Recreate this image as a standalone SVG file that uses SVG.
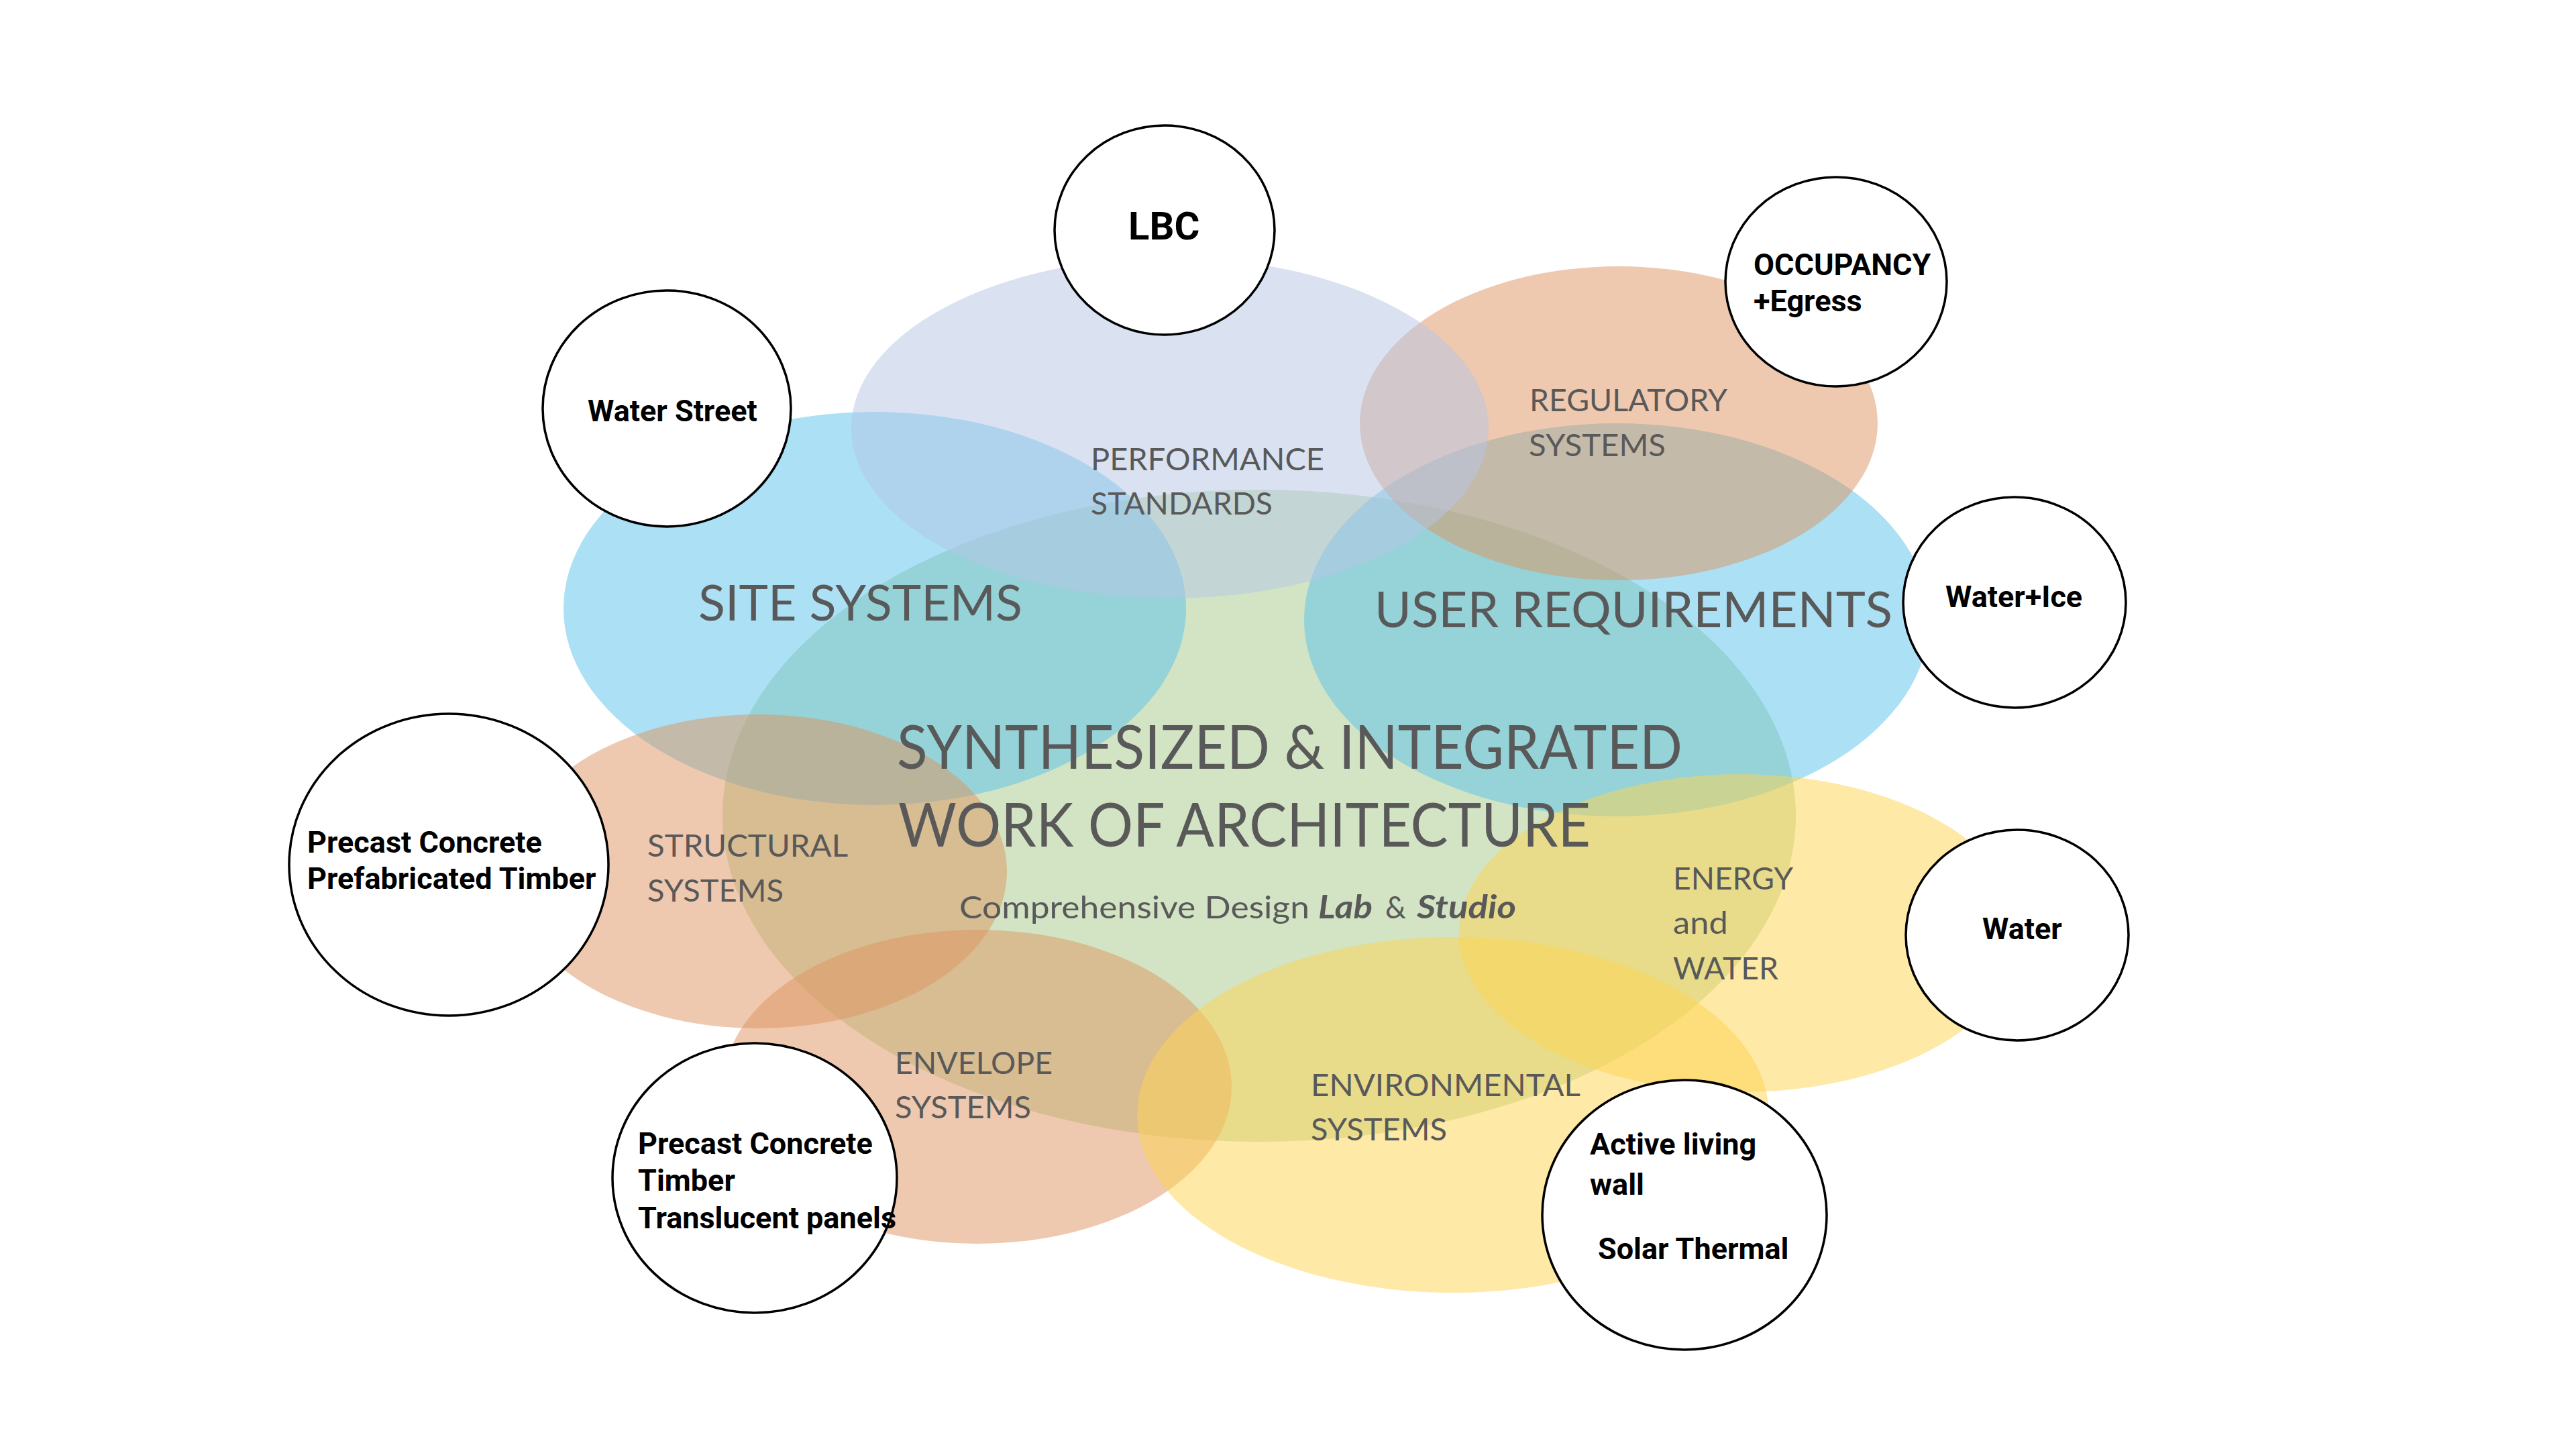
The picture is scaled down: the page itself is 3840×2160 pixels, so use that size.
<svg xmlns="http://www.w3.org/2000/svg" width="3840" height="2160" viewBox="0 0 3840 2160">
<style>
.blob{opacity:0.5}
.green{fill:#A5C989}
.blue{fill:#57C1EB}
.orange{fill:#DD935F}
.lav{fill:#B5C5E5}
.yellow{fill:#FDD34F}
.bubble{fill:#FFFFFF;stroke:#000000;stroke-width:3.5}
.lbl{font-family:Lato,"Open Sans","Liberation Sans",sans-serif;fill:#595959}
.s{font-size:47px}
.m{font-size:73px}
.l{font-size:92px}
.bk{font-family:Roboto,"Liberation Sans",sans-serif;font-weight:700;fill:#000000;font-size:45px}
</style>
<rect x="0" y="0" width="3840" height="2160" fill="#FFFFFF"/>
<g id="sets">
<g id="synthesized"><ellipse class="blob green" cx="1877" cy="1216" rx="800" ry="486"/></g>
<g id="site-systems"><ellipse class="blob blue" cx="1304" cy="907" rx="464" ry="293"/></g>
<g id="user-requirements"><ellipse class="blob blue" cx="2410" cy="924" rx="466" ry="293"/></g>
<g id="regulatory-systems"><ellipse class="blob orange" cx="2413" cy="631" rx="386" ry="234"/></g>
<g id="structural-systems"><ellipse class="blob orange" cx="1130" cy="1299" rx="371" ry="234"/></g>
<g id="envelope-systems"><ellipse class="blob orange" cx="1457" cy="1620" rx="379" ry="234"/></g>
<g id="performance-standards"><ellipse class="blob lav" cx="1744" cy="638" rx="475" ry="254"/></g>
<g id="environmental-systems"><ellipse class="blob yellow" cx="2166" cy="1662" rx="471" ry="265"/></g>
<g id="energy-water"><ellipse class="blob yellow" cx="2594" cy="1391" rx="419" ry="237"/></g>
</g>
<g id="set-labels">
<text class="lbl s" x="1626" y="701" textLength="348" lengthAdjust="spacingAndGlyphs">PERFORMANCE</text>
<text class="lbl s" x="1626" y="767" textLength="271" lengthAdjust="spacingAndGlyphs">STANDARDS</text>
<text class="lbl s" x="2280" y="613" textLength="295" lengthAdjust="spacingAndGlyphs">REGULATORY</text>
<text class="lbl s" x="2279" y="680" textLength="204" lengthAdjust="spacingAndGlyphs">SYSTEMS</text>
<text class="lbl m" x="1041" y="925" textLength="483" lengthAdjust="spacingAndGlyphs">SITE SYSTEMS</text>
<text class="lbl m" x="2049" y="935" textLength="772" lengthAdjust="spacingAndGlyphs">USER REQUIREMENTS</text>
<text class="lbl l" x="1337" y="1146" textLength="1171" lengthAdjust="spacingAndGlyphs">SYNTHESIZED &amp; INTEGRATED</text>
<text class="lbl l" x="1339" y="1262" textLength="1032" lengthAdjust="spacingAndGlyphs">WORK OF ARCHITECTURE</text>
<text class="lbl s" y="1369"><tspan x="1430" textLength="522" lengthAdjust="spacingAndGlyphs">Comprehensive Design</tspan><tspan x="1965" font-weight="700" font-style="italic" textLength="81" lengthAdjust="spacingAndGlyphs">Lab</tspan><tspan x="2065" textLength="31" lengthAdjust="spacingAndGlyphs">&amp;</tspan><tspan x="2112" font-weight="700" font-style="italic" textLength="148" lengthAdjust="spacingAndGlyphs">Studio</tspan></text>
<text class="lbl s" x="965" y="1277" textLength="299" lengthAdjust="spacingAndGlyphs">STRUCTURAL</text>
<text class="lbl s" x="965" y="1344" textLength="203" lengthAdjust="spacingAndGlyphs">SYSTEMS</text>
<text class="lbl s" x="1334" y="1601" textLength="235" lengthAdjust="spacingAndGlyphs">ENVELOPE</text>
<text class="lbl s" x="1334" y="1667" textLength="203" lengthAdjust="spacingAndGlyphs">SYSTEMS</text>
<text class="lbl s" x="1954" y="1634" textLength="402" lengthAdjust="spacingAndGlyphs">ENVIRONMENTAL</text>
<text class="lbl s" x="1954" y="1700" textLength="203" lengthAdjust="spacingAndGlyphs">SYSTEMS</text>
<text class="lbl s" x="2494" y="1326" textLength="179" lengthAdjust="spacingAndGlyphs">ENERGY</text>
<text class="lbl s" x="2494" y="1392" textLength="82" lengthAdjust="spacingAndGlyphs">and</text>
<text class="lbl s" x="2494" y="1460" textLength="157" lengthAdjust="spacingAndGlyphs">WATER</text>
</g>
<g id="node-lbc"><ellipse class="bubble" cx="1736" cy="343" rx="164" ry="156"/><text class="bk" x="1682" y="357" font-size="58" style="font-size:58px">LBC</text></g>
<g id="node-water-street"><ellipse class="bubble" cx="994" cy="609" rx="185" ry="176"/><text class="bk" x="876" y="628">Water Street</text></g>
<g id="node-occupancy"><ellipse class="bubble" cx="2737" cy="420" rx="165" ry="156"/><text class="bk" x="2614" y="410">OCCUPANCY</text><text class="bk" x="2614" y="464">+Egress</text></g>
<g id="node-water-ice"><ellipse class="bubble" cx="3003" cy="898" rx="166" ry="157"/><text class="bk" x="2900" y="905">Water+Ice</text></g>
<g id="node-structural-materials"><ellipse class="bubble" cx="669" cy="1289" rx="238" ry="225"/><text class="bk" x="458" y="1271">Precast Concrete</text><text class="bk" x="458" y="1325">Prefabricated Timber</text></g>
<g id="node-envelope-materials"><ellipse class="bubble" cx="1125" cy="1756" rx="212" ry="201"/><text class="bk" x="951" y="1720">Precast Concrete</text><text class="bk" x="951" y="1775">Timber</text><text class="bk" x="951" y="1831">Translucent panels</text></g>
<g id="node-water"><ellipse class="bubble" cx="3007" cy="1394" rx="166" ry="157"/><text class="bk" x="2955" y="1400">Water</text></g>
<g id="node-living-wall"><ellipse class="bubble" cx="2511" cy="1811" rx="212" ry="201"/><text class="bk" x="2370" y="1721">Active living</text><text class="bk" x="2370" y="1781">wall</text><text class="bk" x="2382" y="1877">Solar Thermal</text></g>
</svg>
